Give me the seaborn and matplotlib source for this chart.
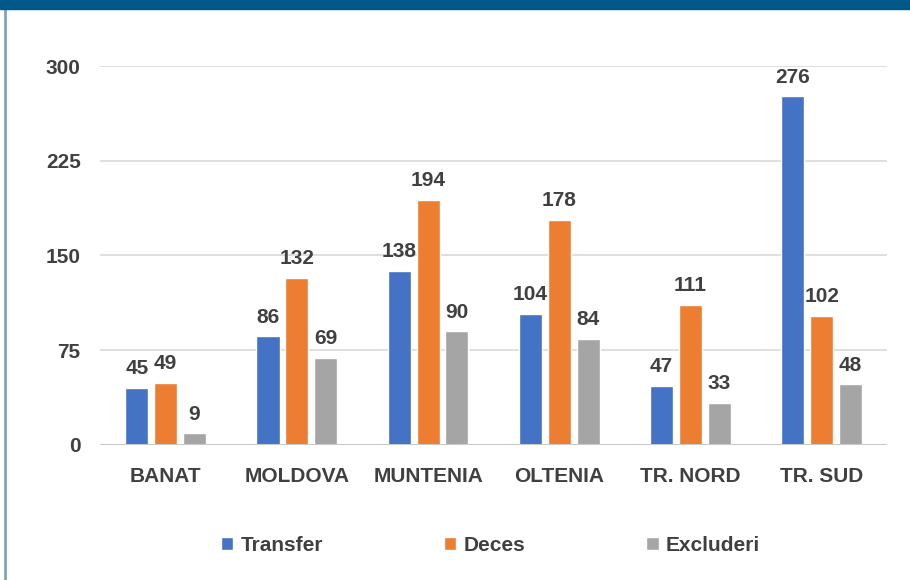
import pandas as pd
import matplotlib.pyplot as plt
import seaborn as sns
from matplotlib.patches import Rectangle

regions = ["BANAT", "MOLDOVA", "MUNTENIA", "OLTENIA", "TR. NORD", "TR. SUD"]
transfer = [45, 86, 138, 104, 47, 276]
deces = [49, 132, 194, 178, 111, 102]
excluderi = [9, 69, 90, 84, 33, 48]
series = ["Transfer", "Deces", "Excluderi"]
colors = ["#4472C4", "#ED7D31", "#A5A5A5"]

df = pd.DataFrame({"Regiune": regions, "Transfer": transfer, "Deces": deces, "Excluderi": excluderi})
df = df.melt(id_vars="Regiune", var_name="Tip", value_name="Numar")

sns.set_style("white")
plt.rcParams["font.family"] = ["Liberation Sans", "DejaVu Sans"]
txt = "#404040"
fs = 15

fig = plt.figure(figsize=(9.1, 5.8), dpi=100)
ax = fig.add_axes([0.110, 0.233, 0.865, 0.653])

sns.barplot(data=df, x="Regiune", y="Numar", hue="Tip", hue_order=series,
            palette=colors, width=0.66, gap=0.2, saturation=1, ax=ax)

for c in ax.containers:
    ax.bar_label(c, padding=7, fontsize=fs, fontweight="bold", color=txt)

ax.set_ylim(0, 300)
ax.set_xlim(-0.5, 5.5)
ax.set_yticks([0, 75, 150, 225, 300])
ax.yaxis.grid(True, color="#d9d9d9", lw=1.2)
ax.set_axisbelow(True)
ax.axhline(0, color="#c8c8c8", lw=1.5)
sns.despine(ax=ax, left=True, bottom=True)
ax.set_xlabel("")
ax.set_ylabel("")
ax.tick_params(axis="both", length=0, labelsize=fs, labelcolor=txt)
ax.tick_params(axis="y", pad=14)
ax.tick_params(axis="x", pad=16)
for lab in ax.get_xticklabels() + ax.get_yticklabels():
    lab.set_fontweight("bold")

ax.legend_.remove()
handles, labels = ax.get_legend_handles_labels()
fig.legend(handles, labels, loc="center", bbox_to_anchor=(0.539, 0.06), ncol=3,
           frameon=False, prop={"weight": "bold", "size": fs},
           handlelength=0.6, handleheight=0.6, handletextpad=0.35, columnspacing=5.8,
           labelcolor=txt)

# top banner and left frame line
fig.patches.append(Rectangle((0, 1 - 9 / 580), 1, 9 / 580, transform=fig.transFigure,
                             color="#00578A", zorder=5))
fig.add_artist(plt.Line2D([5 / 910, 5 / 910], [0, 1 - 9 / 580], transform=fig.transFigure,
                          color="#7FA6BF", lw=2))

fig.savefig("out.png", dpi=100)
